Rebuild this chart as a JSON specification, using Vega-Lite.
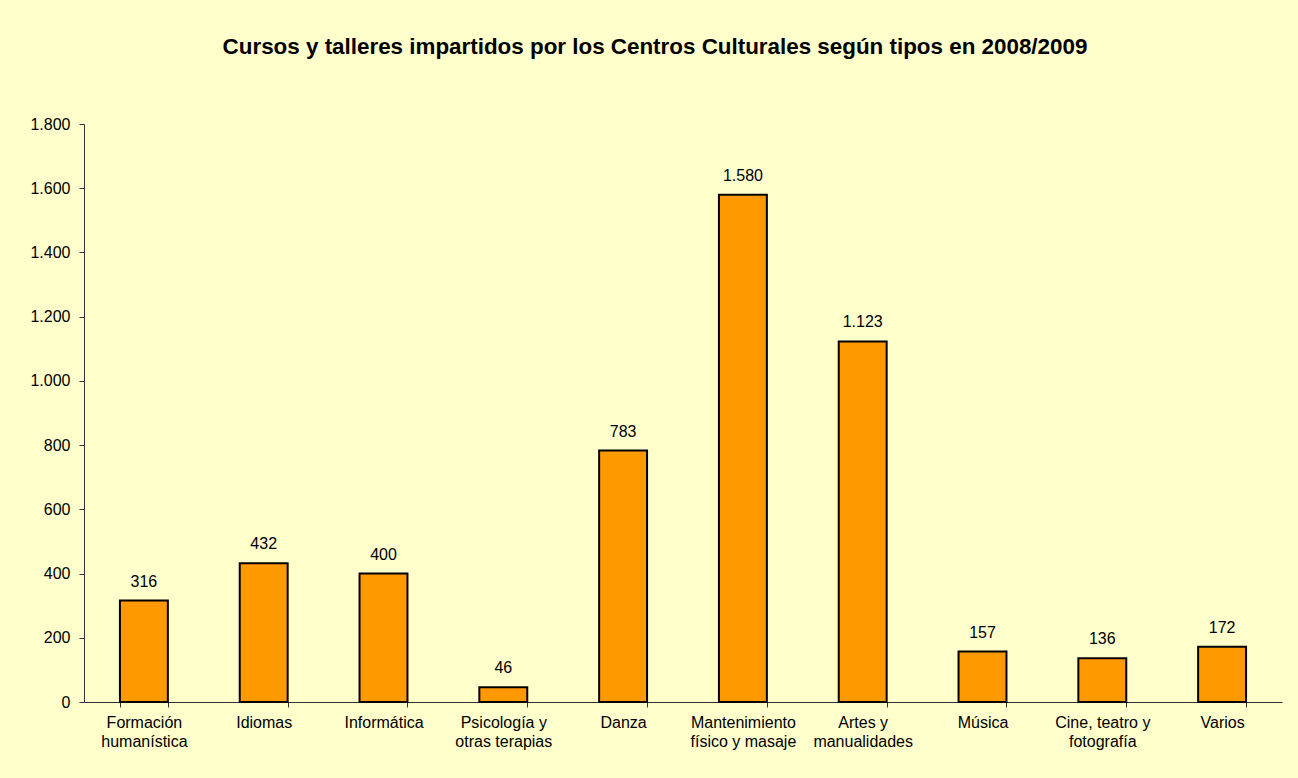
{
  "$schema": "https://vega.github.io/schema/vega-lite/v6.json",
  "autosize": "none",
  "width": 1198,
  "height": 578,
  "padding": {"left": 84, "top": 124, "right": 16, "bottom": 76},
  "background": "#FFFFCC",
  "title": {
    "text": "Cursos y talleres impartidos por los Centros Culturales según tipos en 2008/2009",
    "font": "Liberation Sans",
    "fontSize": 22.4,
    "fontWeight": "bold",
    "color": "#000000",
    "anchor": "middle",
    "offset": 58,
    "dx": -28
  },
  "config": {
    "view": {"stroke": null},
    "locale": {"number": {"decimal": ",", "thousands": ".", "grouping": [3], "currency": ["", " €"]}},
    "axis": {"labelFont": "Liberation Sans", "labelFontSize": 16, "labelColor": "#000000", "domainColor": "#333333", "tickColor": "#333333", "grid": false, "title": null}
  },
  "data": {
    "values": [
      {"tipo": "Formación\nhumanística", "cursos": 316},
      {"tipo": "Idiomas", "cursos": 432},
      {"tipo": "Informática", "cursos": 400},
      {"tipo": "Psicología y\notras terapias", "cursos": 46},
      {"tipo": "Danza", "cursos": 783},
      {"tipo": "Mantenimiento\nfísico y masaje", "cursos": 1580},
      {"tipo": "Artes y\nmanualidades", "cursos": 1123},
      {"tipo": "Música", "cursos": 157},
      {"tipo": "Cine, teatro y\nfotografía", "cursos": 136},
      {"tipo": "Varios", "cursos": 172}
    ]
  },
  "encoding": {
    "x": {
      "field": "tipo",
      "type": "nominal",
      "sort": null,
      "scale": {"paddingInner": 0.6, "paddingOuter": 0.3},
      "axis": {
        "labelAngle": 0,
        "labelExpr": "split(datum.label, '\\n')",
        "labelLineHeight": 19,
        "labelPadding": 7,
        "labelBaseline": "top",
        "tickBand": "extent",
        "tickSize": 5,
        "domainWidth": 1,
        "labelLimit": 200
      }
    },
    "y": {
      "field": "cursos",
      "type": "quantitative",
      "scale": {"domain": [0, 1800], "nice": false},
      "axis": {"values": [0, 200, 400, 600, 800, 1000, 1200, 1400, 1600, 1800], "format": ",d", "tickSize": 5, "labelPadding": 9}
    }
  },
  "layer": [
    {"mark": {"type": "bar", "color": "#FF9900", "stroke": "#000000", "strokeWidth": 2}},
    {
      "mark": {"type": "text", "baseline": "alphabetic", "dy": -14, "font": "Liberation Sans", "fontSize": 16, "color": "#000000"},
      "encoding": {"text": {"field": "cursos", "type": "quantitative", "format": ",d"}}
    }
  ]
}
